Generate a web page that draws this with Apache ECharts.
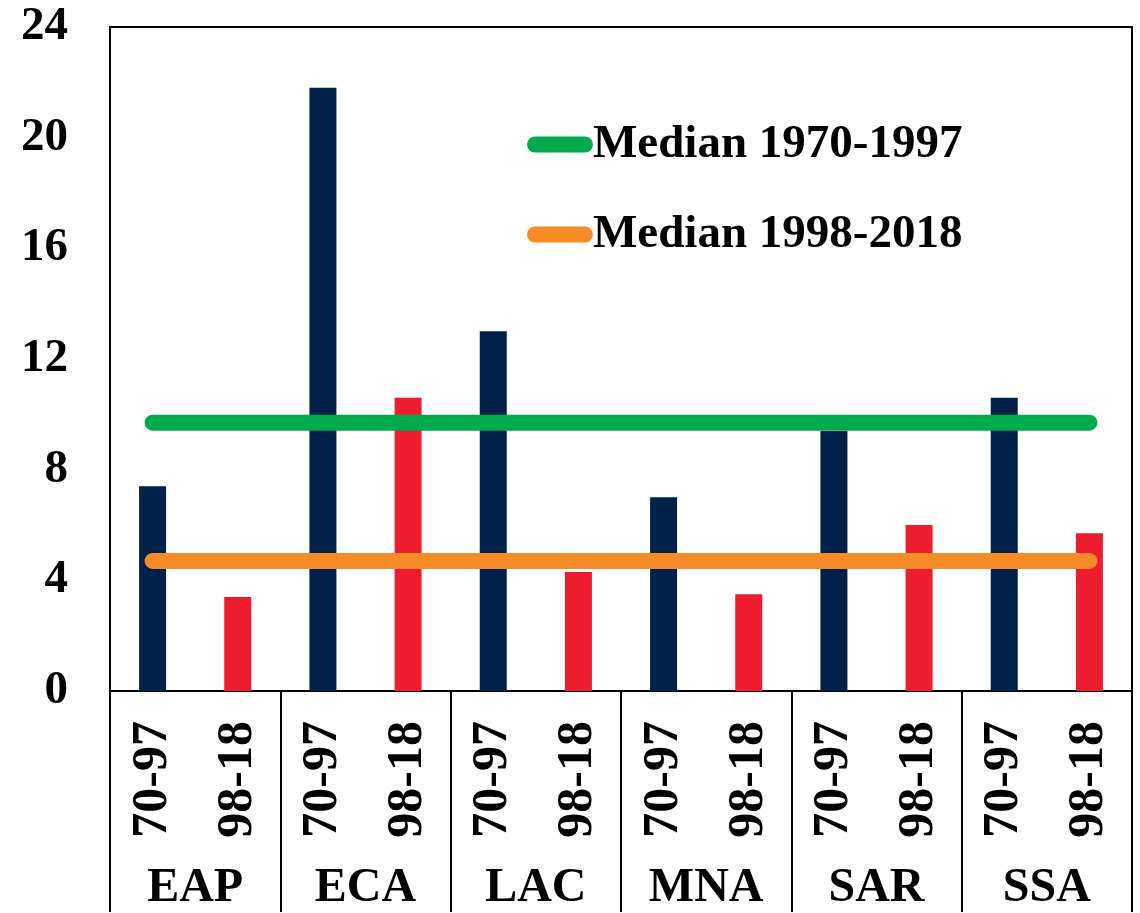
<!DOCTYPE html>
<html>
<head>
<meta charset="utf-8">
<script src="https://cdn.jsdelivr.net/npm/echarts@6/dist/echarts.min.js"></script>
<style>
html, body { margin: 0; padding: 0; background: #fff; }
#main { width: 1140px; height: 913px; }
</style>
</head>
<body>
<div id="main"></div>
<script>
var periods = ['70-97', '98-18', '70-97', '98-18', '70-97', '98-18',
               '70-97', '98-18', '70-97', '98-18', '70-97', '98-18'];
var regions = ['EAP', 'ECA', 'LAC', 'MNA', 'SAR', 'SSA'];
var values = [7.4, 3.4, 21.8, 10.6, 13.0, 4.3, 7.0, 3.5, 9.4, 6.0, 10.6, 5.7];
var median7097 = 9.7;
var median9818 = 4.7;
var yTicks = [0, 4, 8, 12, 16, 20, 24];

var font = 'Liberation Serif';
var navy = '#00214A';
var red = '#ED1C2E';

var myChart = echarts.init(document.getElementById('main'));

var barData = values.map(function (v, i) {
    return {value: v, itemStyle: {color: i % 2 === 0 ? navy : red}};
});

var option = {
    animation: false,
    grid: {
        left: 110, right: 8, top: 27, bottom: 221,
        show: true, borderColor: '#000', borderWidth: 2
    },
    legend: {
        orient: 'vertical',
        left: 522, top: 116,
        itemWidth: 66, itemHeight: 16, itemGap: 43,
        icon: 'path://M8,0 H58 A8,8 0 0 1 58,16 H8 A8,8 0 0 1 8,0 Z',
        textStyle: {fontFamily: font, fontWeight: 'bold', fontSize: 47, color: '#000', padding: [0, 0, 0, -5]},
        data: ['Median 1970-1997', 'Median 1998-2018']
    },
    xAxis: [
        {
            type: 'category',
            data: periods,
            axisLine: {lineStyle: {color: '#000', width: 2}},
            axisTick: {show: false},
            axisLabel: {
                rotate: 90, margin: 30, interval: 0,
                fontFamily: font, fontWeight: 'bold', fontSize: 50, color: '#000'
            }
        },
        {
            type: 'category',
            position: 'bottom',
            data: regions,
            axisLine: {lineStyle: {color: '#000', width: 2}},
            axisTick: {show: true, length: 221, lineStyle: {color: '#000', width: 2}},
            axisLabel: {
                margin: 174, interval: 0,
                fontFamily: font, fontWeight: 'bold', fontSize: 48, color: '#000'
            }
        }
    ],
    yAxis: {
        type: 'value',
        min: yTicks[0], max: yTicks[yTicks.length - 1], interval: 4,
        axisLine: {show: true, lineStyle: {color: '#000', width: 2}},
        axisTick: {show: false},
        splitLine: {show: false},
        axisLabel: {margin: 42, fontFamily: font, fontWeight: 'bold', fontSize: 47, color: '#000'}
    },
    series: [
        {
            type: 'bar',
            data: barData,
            barWidth: 27
        },
        {
            name: 'Median 1970-1997',
            type: 'line',
            data: periods.map(function () { return median7097; }),
            symbol: 'none',
            color: '#00AB4E',
            lineStyle: {width: 16, cap: 'round', color: '#00AB4E'},
            z: 5
        },
        {
            name: 'Median 1998-2018',
            type: 'line',
            data: periods.map(function () { return median9818; }),
            symbol: 'none',
            color: '#F68B28',
            lineStyle: {width: 16, cap: 'round', color: '#F68B28'},
            z: 5
        }
    ]
};
myChart.setOption(option);
</script>
</body>
</html>
